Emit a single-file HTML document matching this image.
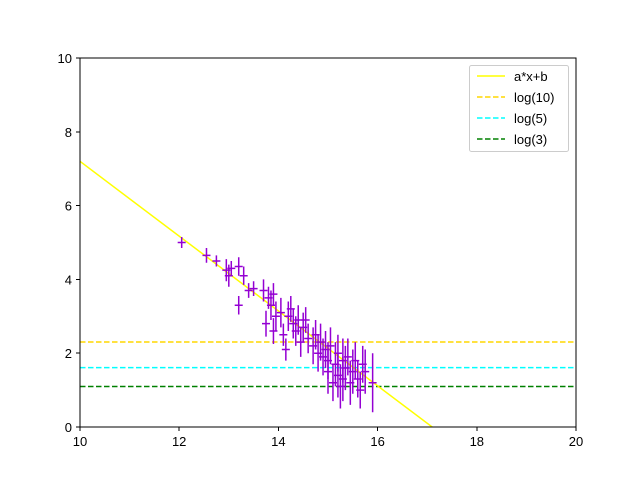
<!DOCTYPE html>
<html><head><meta charset="utf-8"><style>
html,body{margin:0;padding:0;background:#fff;width:640px;height:480px;overflow:hidden;}
svg{display:block;}
svg text{font-family:"Liberation Sans",sans-serif;font-size:13px;fill:#000;}
</style></head><body>
<svg width="640" height="480" xmlns="http://www.w3.org/2000/svg">
<rect width="640" height="480" fill="#fff"/>
<g id="plot"></g>
<rect x="80" y="58" width="496" height="369" fill="none" stroke="#000" stroke-width="1"/>
<g id="ticks"></g>
<g>
<rect x="469.5" y="65.5" width="99" height="86" rx="2" fill="#fff" fill-opacity="0.8" stroke="#ccc"/>
<line x1="477" y1="76" x2="505" y2="76" stroke="#ffff00" stroke-width="1.5"/>
<text x="514" y="81">a*x+b</text>
<line x1="477" y1="97" x2="505" y2="97" stroke="#ffd700" stroke-width="1.5" stroke-dasharray="5.5,2.5"/>
<text x="514" y="102">log(10)</text>
<line x1="477" y1="118" x2="505" y2="118" stroke="#00ffff" stroke-width="1.5" stroke-dasharray="5.5,2.5"/>
<text x="514" y="123">log(5)</text>
<line x1="477" y1="139" x2="505" y2="139" stroke="#008000" stroke-width="1.5" stroke-dasharray="5.5,2.5"/>
<text x="514" y="144">log(3)</text>
</g>
</svg>
<script>
const xs=[12.05,12.55,12.75,12.95,13.0,13.05,13.2,13.2,13.3,13.4,13.5,13.7,13.75,13.8,13.85,13.9,13.9,13.95,14.05,14.1,14.15,14.2,14.25,14.3,14.35,14.4,14.45,14.5,14.55,14.6,14.7,14.75,14.8,14.85,14.9,14.95,15.0,15.0,15.05,15.1,15.15,15.2,15.2,15.25,15.3,15.3,15.35,15.4,15.45,15.5,15.55,15.6,15.65,15.7,15.75,15.9];
const ys=[5.0,4.65,4.5,4.25,4.1,4.3,3.3,4.35,4.1,3.7,3.75,3.7,2.8,3.5,3.3,3.6,2.6,3.0,3.1,2.5,2.1,3.0,3.2,2.8,2.6,2.9,2.3,2.7,2.9,2.4,2.2,2.5,2.0,2.3,1.9,2.1,1.8,1.5,2.2,1.2,1.7,1.4,2.0,1.1,1.8,1.3,1.6,1.9,1.2,1.5,1.8,1.3,1.0,1.7,1.5,1.2];
const errs=[0.15,0.2,0.15,0.3,0.3,0.2,0.25,0.25,0.25,0.2,0.2,0.3,0.35,0.3,0.4,0.3,0.35,0.4,0.4,0.3,0.3,0.4,0.35,0.4,0.4,0.4,0.4,0.4,0.35,0.4,0.5,0.4,0.5,0.5,0.5,0.5,0.5,0.6,0.5,0.5,0.6,0.6,0.5,0.6,0.6,0.6,0.6,0.5,0.6,0.6,0.5,0.5,0.5,0.5,0.6,0.8];
const fitA=-1.014, fitB=17.34;
const hlines=[2.303,1.609,1.099];
const hnames=['log10-line','log5-line','log3-line'];
const hcolors=['#ffd700','#00ffff','#008000'];
const xTicks=[10,12,14,16,18,20];
const yTicks=[0,2,4,6,8,10];
const NS='http://www.w3.org/2000/svg';
const X=v=>80+(v-10)*49.6, Y=v=>427-v*36.9;
const plot=document.getElementById('plot'), ticks=document.getElementById('ticks');
function mk(tag,attrs,parent){const e=document.createElementNS(NS,tag);for(const k in attrs)e.setAttribute(k,attrs[k]);parent.appendChild(e);return e;}
const clip=mk('clipPath',{id:'c'},plot);mk('rect',{x:80,y:58,width:496,height:369},clip);
const g=mk('g',{'clip-path':'url(#c)'},plot);
hlines.forEach((h,i)=>{const l=mk('line',{x1:80,x2:576,y1:Y(h),y2:Y(h),stroke:hcolors[i],'stroke-width':1.5,'stroke-dasharray':'5.5,2.5'},g);

});
const f=mk('line',{x1:X(10),y1:Y(fitA*10+fitB),x2:X(20),y2:Y(fitA*20+fitB),stroke:'#ffff00','stroke-width':1.5},g);


xs.forEach((x,i)=>{const p=mk('path',{d:`M${X(x)},${Y(ys[i]-errs[i])}V${Y(ys[i]+errs[i])}M${X(x)-4},${Y(ys[i])}H${X(x)+4}`,stroke:'#9400d3','stroke-width':1.5,fill:'none'},g);

});
xTicks.forEach(t=>{mk('line',{x1:X(t),x2:X(t),y1:427,y2:431,stroke:'#000','shape-rendering':'crispEdges'},ticks);
const tx=mk('text',{x:X(t),y:446,'text-anchor':'middle'},ticks);tx.textContent=t;

});
yTicks.forEach(t=>{mk('line',{x1:76,x2:80,y1:Y(t),y2:Y(t),stroke:'#000','shape-rendering':'crispEdges'},ticks);
const tx=mk('text',{x:72,y:Y(t)+5,'text-anchor':'end'},ticks);tx.textContent=t;

});
</script>
</body></html>
